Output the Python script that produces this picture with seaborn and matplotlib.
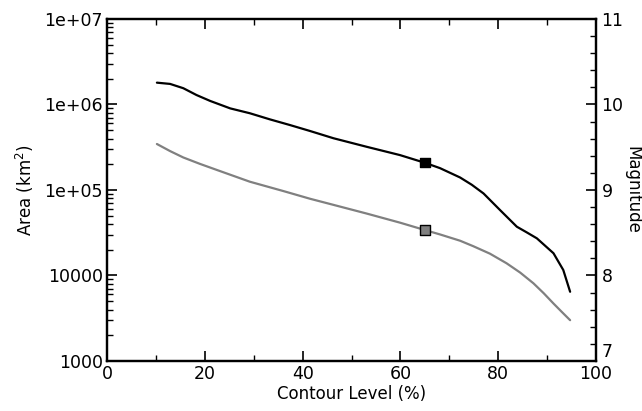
import numpy as np
import pandas as pd
import matplotlib
matplotlib.use("Agg")
import matplotlib.pyplot as plt
import seaborn as sns
from matplotlib.ticker import FixedLocator, LogLocator, NullFormatter, MultipleLocator

# Contour level (%) and enclosed area (km^2) for the two curves
level_black = [10.2, 12.9, 15.6, 18.3, 21.1, 25.2, 29.2, 33.3, 37.4, 41.5, 46.3,
               53.1, 59.9, 65.0, 68.1, 72.2, 74.6, 77.0, 80.4, 83.8, 85.8, 87.9,
               91.3, 93.3, 94.7]
area_black = [1.80e6, 1.74e6, 1.55e6, 1.29e6, 1.10e6, 9.0e5, 7.9e5, 6.7e5, 5.75e5,
              4.9e5, 4.03e5, 3.2e5, 2.56e5, 2.08e5, 1.80e5, 1.40e5, 1.15e5, 9.1e4,
              5.8e4, 3.72e4, 3.2e4, 2.72e4, 1.82e4, 1.16e4, 6.45e3]

level_gray = [10.2, 12.9, 15.6, 19.0, 22.4, 29.2, 36.1, 41.5, 46.3, 53.1, 59.9,
              65.0, 68.1, 72.2, 74.9, 78.3, 81.7, 84.5, 87.2, 89.3, 91.3, 93.1, 94.7]
area_gray = [3.45e5, 2.85e5, 2.40e5, 2.02e5, 1.72e5, 1.25e5, 9.7e4, 7.9e4, 6.7e4,
             5.3e4, 4.15e4, 3.40e4, 3.02e4, 2.55e4, 2.2e4, 1.8e4, 1.39e4, 1.08e4,
             8.1e3, 6.2e3, 4.7e3, 3.7e3, 3.0e3]

# Highlighted contour level
mark_level = [65.0, 65.0]
mark_area = [2.08e5, 3.40e4]
mark_color = ["black", "#808080"]

y_ticks = [1e3, 1e4, 1e5, 1e6, 1e7]
y_ticklabels = ["1000", "10000", "1e+05", "1e+06", "1e+07"]
x_ticks = [0, 20, 40, 60, 80, 100]
mag_ticks = [7, 8, 9, 10, 11]

sns.set_theme(style="ticks")
plt.rcParams["font.family"] = ["DejaVu Sans"]
plt.rcParams.update({
    "text.color": "black", "axes.labelcolor": "black",
    "xtick.color": "black", "ytick.color": "black", "axes.edgecolor": "black",
})

fig = plt.figure(figsize=(6.42, 4.11), dpi=100)
ax = fig.add_axes([0.1667, 0.1217, 0.7617, 0.8321])

df_b = pd.DataFrame({"level": level_black, "area": area_black})
df_g = pd.DataFrame({"level": level_gray, "area": area_gray})
sns.lineplot(data=df_b, x="level", y="area", color="black", linewidth=1.6, ax=ax)
sns.lineplot(data=df_g, x="level", y="area", color="#808080", linewidth=1.6, ax=ax)

df_m = pd.DataFrame({"level": mark_level, "area": mark_area, "c": mark_color})
sns.scatterplot(data=df_m, x="level", y="area", hue="c", palette=mark_color,
                hue_order=mark_color, marker="s", s=45, edgecolor="black",
                linewidth=1.0, legend=False, zorder=5, ax=ax)

ax.set_yscale("log")
ax.set_xlim(0, 100)
ax.set_ylim(1e3, 1e7)
ax.yaxis.set_major_locator(FixedLocator(y_ticks))
ax.set_yticklabels(y_ticklabels)
ax.yaxis.set_minor_locator(LogLocator(base=10, subs=np.arange(2, 10)))
ax.yaxis.set_minor_formatter(NullFormatter())
ax.set_xticks(x_ticks)
ax.xaxis.set_minor_locator(MultipleLocator(10))

ax.set_xlabel("Contour Level (%)", fontsize=12, labelpad=1)
ax.set_ylabel("Area (km$^2$)", fontsize=12, labelpad=6)
ax.tick_params(axis="both", which="major", direction="in", length=7, width=1.2,
               labelsize=12.5, pad=3)
ax.tick_params(axis="both", which="minor", direction="in", length=4, width=1.0)
ax.tick_params(axis="x", which="both", top=True)

for s in ax.spines.values():
    s.set_linewidth(1.6)
    s.set_visible(True)

ax2 = ax.twinx()
ax2.set_ylim(7, 11)
ax2.set_yticks(mag_ticks)
ax2.yaxis.set_minor_locator(MultipleLocator(0.2))
ax2.tick_params(axis="y", which="major", direction="in", length=7, width=1.2,
                labelsize=12.5, pad=4)
ax2.tick_params(axis="y", which="minor", direction="in", length=4, width=1.0)
# lift the lowest magnitude label so it clears the "100" below it
ax2.yaxis.get_major_ticks()[0].label2.set_va("bottom")
ax2.set_ylabel("Magnitude", fontsize=12, rotation=270)
ax2.yaxis.set_label_coords(1.075, 0.5)
ax2.yaxis.label.set_va("center")
ax2.yaxis.label.set_ha("center")
for s in ax2.spines.values():
    s.set_linewidth(1.6)

fig.savefig("out.png", dpi=100)
